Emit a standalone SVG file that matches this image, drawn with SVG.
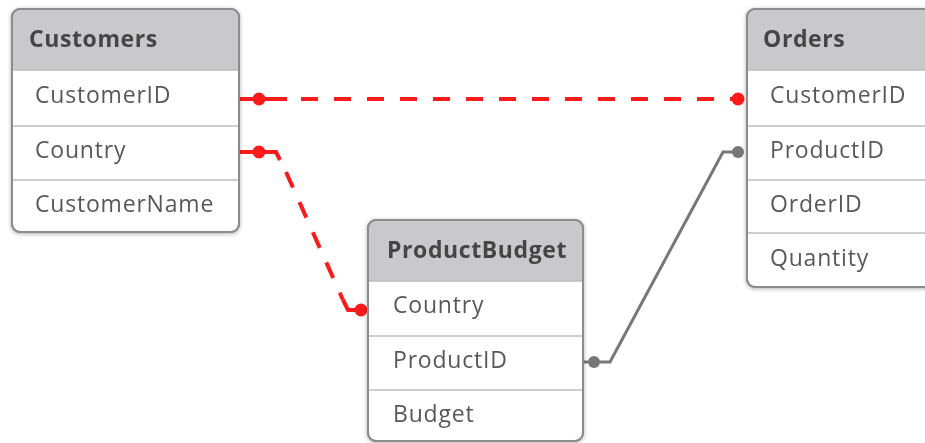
<svg xmlns="http://www.w3.org/2000/svg" width="925" height="443" viewBox="0 0 925 443">
<defs>
<filter id="sh" x="-10%" y="-10%" width="120%" height="120%">
<feGaussianBlur in="SourceAlpha" stdDeviation="2"/>
<feOffset dx="0" dy="1" result="b"/>
<feComponentTransfer><feFuncA type="linear" slope="0.3"/></feComponentTransfer>
<feMerge><feMergeNode/><feMergeNode in="SourceGraphic"/></feMerge>
</filter>
</defs>
<style>
.box{fill:#ffffff;stroke:#8c8c8c;stroke-width:2}
.hdr{fill:#c9c9cb}
.div{stroke:#bdbdbd;stroke-width:1.5}
.ht{font-family:"Open Sans","Liberation Sans",sans-serif;font-weight:700;font-size:23px;fill:#444444;letter-spacing:0.6px}
.rt{font-family:"Open Sans","Liberation Sans",sans-serif;font-size:23px;fill:#595959;letter-spacing:0.8px}
.red{fill:none;stroke:#ff1a1a;stroke-width:4}
.dash{stroke-dasharray:17 16}
.gray{fill:none;stroke:#777777;stroke-width:3}
.rdot{fill:#ff1a1a}
.gdot{fill:#777777}
</style>
<rect width="925" height="443" fill="#ffffff"/>

<g id="connectors">
<path class="red" d="M239,99 H287"/>
<path class="red dash" d="M301,99 H738"/>
<path class="red" d="M239,152 H276 L280,160"/>
<path class="red dash" d="M286,172 L343,300"/>
<path class="red" d="M343,300 L348,310 H362"/>
<path class="gray" d="M583,362 H610 L723,152 H738"/>
<circle class="rdot" cx="259" cy="99" r="6.5"/>
<circle class="rdot" cx="738" cy="99" r="6.5"/>
<circle class="rdot" cx="259" cy="152" r="6.5"/>
<circle class="rdot" cx="361" cy="310" r="6.5"/>
<circle class="gdot" cx="594" cy="362" r="6"/>
<circle class="gdot" cx="738" cy="152" r="6"/>
</g>

<g id="customers" filter="url(#sh)">
<rect class="box" x="12" y="9" width="227" height="223" rx="8"/>
<path class="hdr" d="M20,10 H231 A7,7 0 0 1 238,17 V70 H13 V17 A7,7 0 0 1 20,10 Z"/>
<line class="div" x1="13" y1="70" x2="238" y2="70"/>
<line class="div" x1="13" y1="126" x2="238" y2="126"/>
<line class="div" x1="13" y1="180" x2="238" y2="180"/>
<rect x="12" y="9" width="227" height="223" rx="8" fill="none" stroke="#8c8c8c" stroke-width="2"/>
<text class="ht" x="29" y="47">Customers</text>
<text class="rt" x="35" y="103">CustomerID</text>
<text class="rt" x="35" y="158">Country</text>
<text class="rt" x="35" y="212">CustomerName</text>
</g>

<g id="productbudget" filter="url(#sh)">
<rect class="box" x="368" y="220" width="215" height="221" rx="8"/>
<path class="hdr" d="M376,221 H575 A7,7 0 0 1 582,228 V281 H369 V228 A7,7 0 0 1 376,221 Z"/>
<line class="div" x1="369" y1="281" x2="582" y2="281"/>
<line class="div" x1="369" y1="336" x2="582" y2="336"/>
<line class="div" x1="369" y1="390" x2="582" y2="390"/>
<rect x="368" y="220" width="215" height="221" rx="8" fill="none" stroke="#8c8c8c" stroke-width="2"/>
<text class="ht" x="387" y="258">ProductBudget</text>
<text class="rt" x="393" y="313">Country</text>
<text class="rt" x="393" y="368">ProductID</text>
<text class="rt" x="393" y="422">Budget</text>
</g>

<g id="orders" filter="url(#sh)">
<rect class="box" x="747" y="9" width="200" height="278" rx="8"/>
<path class="hdr" d="M755,10 H946 V70 H748 V17 A7,7 0 0 1 755,10 Z"/>
<line class="div" x1="748" y1="70" x2="946" y2="70"/>
<line class="div" x1="748" y1="126" x2="946" y2="126"/>
<line class="div" x1="748" y1="180" x2="946" y2="180"/>
<line class="div" x1="748" y1="233" x2="946" y2="233"/>
<rect x="747" y="9" width="200" height="278" rx="8" fill="none" stroke="#8c8c8c" stroke-width="2"/>
<text class="ht" x="763" y="47">Orders</text>
<text class="rt" x="770" y="103">CustomerID</text>
<text class="rt" x="770" y="158">ProductID</text>
<text class="rt" x="770" y="212">OrderID</text>
<text class="rt" x="770" y="266">Quantity</text>
</g>
</svg>
